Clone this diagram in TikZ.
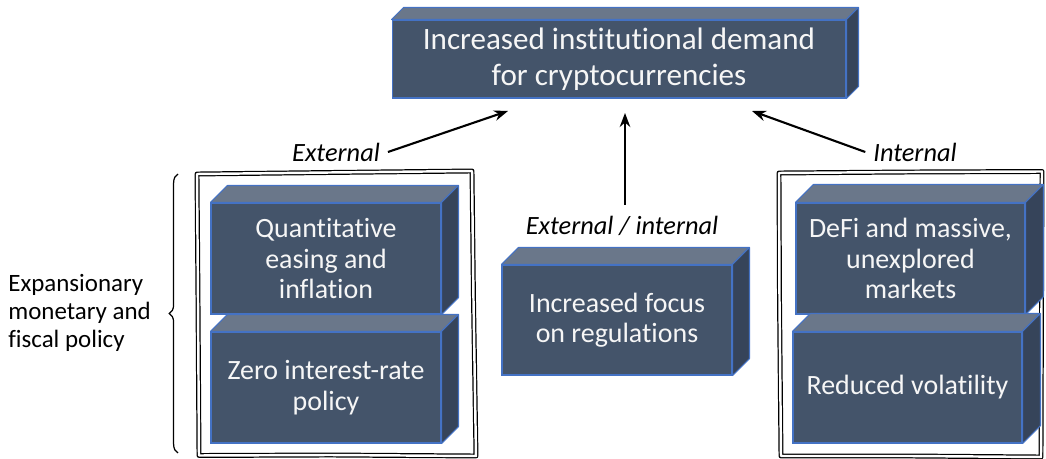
\documentclass[tikz,border=0pt]{standalone}
\usepackage{fontspec}
\setmainfont{Carlito}[Ligatures=NoCommon]
\usepackage{tikz}
\usetikzlibrary{arrows.meta, positioning, calc, decorations.pathreplacing}
\definecolor{slatecol}{HTML}{44546A}
\definecolor{slatetop}{HTML}{6A778A}
\definecolor{slateside}{HTML}{36445A}
\definecolor{edgecol}{HTML}{4472C4}
\definecolor{inkcol}{HTML}{000000}
\definecolor{paperwhite}{HTML}{F6F6F6}

\begin{document}
\begin{tikzpicture}[
  x=0.02cm, y=-0.02cm,
  block/.style={rectangle, draw=edgecol, fill=slatecol, line width=0.6pt,
                text=paperwhite, align=center, inner sep=0pt,
                minimum width=4.6cm, minimum height=2.22cm,
                font=\fontsize{15.9}{17.3}\selectfont},
  topface/.style={draw=edgecol, fill=slatetop, line width=0.6pt, line join=round},
  sideface/.style={draw=edgecol, fill=slateside, line width=0.6pt, line join=round},
  lbl/.style={font=\fontsize{15}{18}\selectfont\itshape, text=inkcol, inner sep=1pt},
  frame/.style={draw=inkcol, line width=0.7pt, double=white, double distance=1.4pt,
                line join=round},
  arr/.style={draw=inkcol, line width=1.2pt, -{Stealth[length=8pt, width=6pt]}},
]
  \useasboundingbox (0,0) rectangle (1046,459);

  % hand-drawn frames round the two side groups
  \draw[frame] (197,174) -- (330,172.5) -- (472,171) -- (473.5,300) -- (476,456)
               -- (330,455) -- (199,455.5) -- (198,300) -- cycle;
  \draw[frame] (779,173) -- (910,172) -- (1042,171.5) -- (1041.5,300) -- (1041,457)
               -- (910,456) -- (781,456) -- (779.5,300) -- cycle;

  % front faces
  \node[block, minimum width=9.08cm, minimum height=1.56cm,
        font=\fontsize{17.7}{20.4}\selectfont] (demand) at (619,59)
        {Increased institutional demand\\for cryptocurrencies};
  \node[block] (qe)    at (326,258.5) {Quantitative\\easing and\\inflation};
  \node[block] (zirp)  at (326,387.5) {Zero interest-rate\\policy};
  \node[block, minimum height=2.2cm] (regul) at (617,320) {Increased focus\\on regulations};
  \node[block, minimum width=4.58cm] (defi) at (910.5,258.5) {DeFi and massive,\\unexplored\\markets};
  \node[block, minimum width=4.58cm] (vol)  at (907.5,387.5) {Reduced volatility};

  % top and side faces
  \foreach \n/\d in {demand/12, qe/17, zirp/17, regul/17, defi/18, vol/18} {
    \filldraw[topface] (\n.north west) -- ++(\d,-\d) -- ($(\n.north east)+(\d,-\d)$)
      -- (\n.north east) -- cycle;
    \filldraw[sideface] (\n.north east) -- ++(\d,-\d) -- ($(\n.south east)+(\d,-\d)$)
      -- (\n.south east) -- cycle;
  }

  % labels and arrows
  \node[lbl] (ext)    at (336,152) {External};
  \node[lbl] (int)    at (915,152) {Internal};
  \node[lbl] (extint) at (622,226) {External / internal};
  \coordinate (inL) at (508,111);
  \coordinate (inM) at (625,113);
  \coordinate (inR) at (752,111);
  \coordinate (outM) at (625,205);
  \draw[arr] (ext.east) ++(6,0) -- (inL);
  \draw[arr] (int.west) ++(-6,0) -- (inR);
  \draw[arr] (outM) -- (inM);

  % brace with the policy text
  \draw[inkcol, line width=0.7pt, decorate, decoration={brace, amplitude=5pt}]
    (178,453) -- (178,174);
  \node[anchor=west, align=left, inner sep=0pt, text=inkcol,
        font=\fontsize{14.2}{16}\selectfont] (policy) at (8,313)
        {Expansionary\\monetary and\\fiscal policy};
\end{tikzpicture}
\end{document}
